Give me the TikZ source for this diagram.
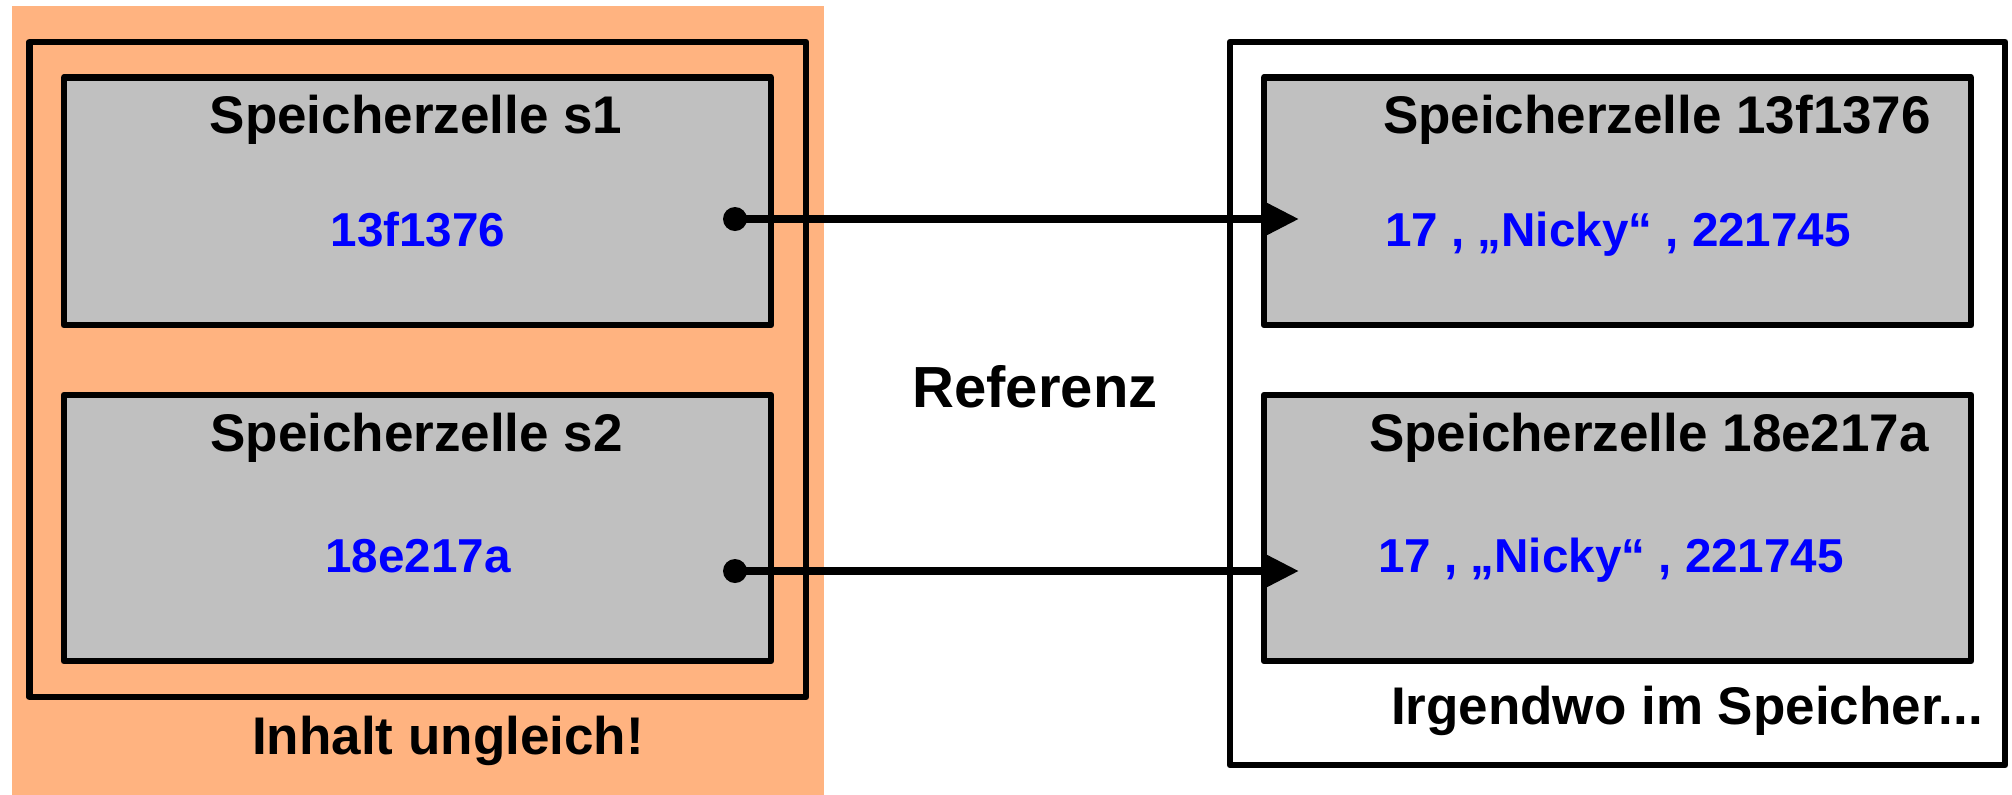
\documentclass[tikz,border=0pt]{standalone}
\usepackage{fontspec}
\setmainfont{Liberation Sans}
\usetikzlibrary{arrows.meta}
\definecolor{orangebg}{RGB}{255,179,128}
\definecolor{cellgray}{RGB}{192,192,192}
\definecolor{valblue}{RGB}{0,0,255}
\begin{document}
\begin{tikzpicture}[x=0.5pt,y=-0.5pt,
  box/.style={draw=black, line width=3.3pt, inner sep=0pt, outer sep=0pt, line join=round},
  cell/.style={box, fill=cellgray, minimum width=353.5pt},
  title/.style={anchor=base, inner sep=0pt, font=\bfseries\fontsize{26.5pt}{30pt}\selectfont, text=black},
  val/.style={anchor=base, inner sep=0pt, font=\bfseries\fontsize{23.8pt}{28pt}\selectfont, text=valblue},
  bigtext/.style={anchor=base, inner sep=0pt, font=\bfseries\fontsize{29pt}{33pt}\selectfont, text=black},
  dotnode/.style={circle, fill=black, inner sep=0pt, minimum size=12pt},
  refarrow/.style={line width=4.2pt, -{Triangle[length=19pt,width=18pt]}}
]
\useasboundingbox (0,0) rectangle (2012,794);
% left side
\node[fill=orangebg, inner sep=0pt, minimum width=406pt, minimum height=395pt] (bg) at (418,401) {};
\node[box, minimum width=388.25pt, minimum height=327.5pt] (leftouter) at (417.75,369.5) {};
\node[cell, minimum height=123.75pt] (s1) at (417.5,201.25) {};
\node[cell, minimum height=133pt] (s2) at (417.5,528) {};
\node[title] (s1t) at (416,133) {Speicherzelle s1};
\node[val] (s1v) at (418,246) {13f1376};
\node[title] (s2t) at (416.5,451) {Speicherzelle s2};
\node[val] (s2v) at (418,572) {18e217a};
\node[title] (ungl) at (448,754) {Inhalt ungleich!};
% right side
\node[box, minimum width=387.5pt, minimum height=361.5pt] (rightouter) at (1617.5,403.5) {};
\node[cell, minimum height=123.75pt] (m1) at (1617.5,201.25) {};
\node[cell, minimum height=133pt] (m2) at (1617.5,528) {};
\node[title] (m1t) at (1657,133) {Speicherzelle 13f1376};
\node[val] (m1v) at (1618,246) {17 , „Nicky“ , 221745};
\node[title] (m2t) at (1649,451) {Speicherzelle 18e217a};
\node[val] (m2v) at (1611,572) {17 , „Nicky“ , 221745};
\node[title] (irg) at (1687,724) {Irgendwo im Speicher...};
% middle
\node[bigtext] (refl) at (1035,407) {Referenz};
% connectors
\node[dotnode] (d1) at (735,219) {};
\node[dotnode] (d2) at (735,571) {};
\coordinate (t1) at (1299,219);
\coordinate (t2) at (1299,571);
\draw[refarrow] (d1.center) -- (t1);
\draw[refarrow] (d2.center) -- (t2);
\end{tikzpicture}
\end{document}
